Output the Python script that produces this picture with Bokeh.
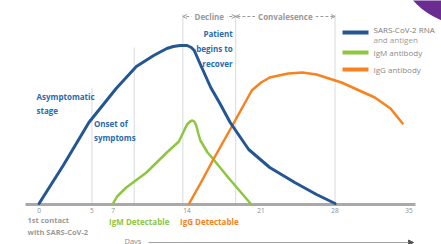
from bokeh.plotting import figure
from bokeh.models import Range1d, Arrow, OpenHead, NormalHead, Label
from bokeh.core.properties import value
from bokeh.embed import file_html
from bokeh.resources import INLINE

# ---------------- data (days since first contact, relative level) ----------------
tick_days = [0, 5, 7, 14, 21, 28, 35]
tick_labels = ["0", "5", "7", "14", "21", "28", "35"]

rna_days = [0, 2.28, 4.71, 7.29, 9.2, 10.84, 12.08, 12.7, 13.33, 14.0, 14.4, 14.68,
            15.26, 16.24, 17.11, 18.08, 19.83, 21.82, 24.19, 26.25, 28]
rna_level = [0, 38, 81, 115, 137, 148, 155, 157, 158, 158, 156, 153,
             139, 116, 100, 81, 54, 36, 21, 9, 0]

igm_days = [7, 7.38, 8.25, 10.16, 12.08, 13.23, 13.81, 14.0, 14.29, 14.49, 14.68,
            14.87, 15.06, 15.26, 15.94, 16.43, 17.89, 20]
igm_level = [0, 7, 16, 31, 51, 62, 75, 79, 82, 83, 82, 78, 70, 63, 51, 45, 26, 0]

igg_days = [14.2, 15.26, 16.43, 18.18, 20.12, 21.0, 21.82, 23.57, 24.91, 26.25,
            28.61, 31.76, 33.25, 34.39]
igg_level = [0, 20, 43, 76, 113, 121, 126, 130, 131, 129, 121, 106, 95, 80]

stage_days = [5, 9, 13.6, 18.6, 28]
stage_tops = [115, 156, 189, 189, 189]

phase_names = ["Decline", "Convalesence"]
phase_start = [13.6, 18.6]
phase_end = [18.6, 28]

series_names = ["SARS-CoV-2 RNA", "and antigen", "IgM antibody", "IgG antibody"]
series_colors = ["#245694", "#8dc63f", "#f7821e"]

# ---------------- layout helpers ----------------
W, H = 441, 244
S = 10.57          # px per day
D0 = 38.6          # page x of day 0
x0 = -D0 / S
XR = Range1d(x0, x0 + W / S)
YR = Range1d(203 - H, 203)   # 1 level unit = 1 px, baseline at page y 203


def gx(px):
    return (px - D0) / S


def gy(py):
    return 203 - py


FONT = value("Open Sans")
TEXT_BLUE = "#2a6aae"
GRAY = "#8c8c8c"

p = figure(width=W, height=H, x_range=XR, y_range=YR, min_border=0,
           toolbar_location=None, output_backend="svg",
           outline_line_color=None, background_fill_color="white",
           border_fill_color="white")
p.axis.visible = False
p.grid.visible = False

# stage marker lines
p.segment(x0=stage_days, y0=[0] * len(stage_days), x1=stage_days, y1=stage_tops,
          line_color="#d6dade", line_width=1)

# baseline
p.segment(x0=[gx(25)], y0=[-1], x1=[gx(415)], y1=[-1], line_color="#a9a9a9",
          line_width=3)

# curves
p.line(igm_days, igm_level, line_color=series_colors[1], line_width=2.5,
       line_join="round", line_cap="round")
p.line(igg_days, igg_level, line_color=series_colors[2], line_width=2.5,
       line_join="round", line_cap="round")
p.line(rna_days, rna_level, line_color=series_colors[0], line_width=3,
       line_join="round", line_cap="round")

# tick labels
p.text(x=tick_days, y=[-4] * len(tick_days), text=tick_labels,
       text_align="center", text_baseline="top", text_font=FONT,
       text_font_size="6.5px", text_color=GRAY)

# phase arrows at top
for name, s, e in zip(phase_names, phase_start, phase_end):
    mid = (s + e) / 2
    for end in (s, e):
        p.add_layout(Arrow(x_start=mid, y_start=187, x_end=end, y_end=187,
                           line_color="#9a9a9a", line_width=1, line_dash="3 2",
                           end=OpenHead(size=4, line_color="#9a9a9a", line_width=1)))
    p.add_layout(Label(x=mid, y=187, text=name, text_align="center",
                       text_baseline="middle", text_font="Open Sans",
                       text_font_size="8px", text_font_style="bold",
                       text_color="#999999", background_fill_color="white",
                       padding=3))

# blue annotations
p.text(x=[gx(36)], y=[gy(90)], text=["Asymptomatic\nstage"], text_align="left",
       text_baseline="top", text_font=FONT, text_font_size="8px",
       text_font_style="bold", text_color=TEXT_BLUE, text_line_height=1.3)
p.text(x=[stage_days[0]], y=[gy(117)], text=["Onset of\nsymptoms"], x_offset=2,
       text_align="left", text_baseline="top", text_font=FONT,
       text_font_size="8px", text_font_style="bold", text_color=TEXT_BLUE,
       text_line_height=1.3)
p.text(x=[stage_days[3]], y=[gy(27)], text=["Patient\nbegins to\nrecover"],
       x_offset=-3, text_align="right", text_baseline="top", text_font=FONT,
       text_font_size="8px", text_font_style="bold", text_color=TEXT_BLUE,
       text_line_height=1.4)

# bottom labels
p.text(x=[gx(27)] * 2, y=[gy(219), gy(231)], text=["1st contact", "with SARS-CoV-2"],
       text_align="left", text_baseline="middle", text_font=FONT,
       text_font_size="7.5px", text_font_style="bold", text_color="#9a9a9a")
p.text(x=[7], y=[gy(221)], text=["IgM Detectable"], x_offset=-4,
       text_align="left", text_baseline="middle", text_font=FONT,
       text_font_size="8px", text_font_style="bold", text_color=series_colors[1])
p.text(x=[14], y=[gy(221)], text=["IgG Detectable"], x_offset=-7,
       text_align="left", text_baseline="middle", text_font=FONT,
       text_font_size="8px", text_font_style="bold", text_color=series_colors[2])
p.text(x=[gx(124)], y=[gy(240)], text=["Days"], text_align="left",
       text_baseline="middle", text_font=FONT, text_font_size="7.5px",
       text_color=GRAY)
p.add_layout(Arrow(x_start=gx(148), y_start=gy(242), x_end=gx(413), y_end=gy(242),
                   line_color="#a0a0a0", line_width=1,
                   end=NormalHead(size=5, fill_color="#555555", line_color="#555555")))

# legend (drawn manually)
leg_y = [gy(32), gy(52), gy(69)]
p.segment(x0=[gx(342)] * 3, y0=leg_y, x1=[gx(368)] * 3, y1=leg_y,
          line_color=series_colors, line_width=4)
p.text(x=[gx(373)] * 4, y=[gy(29), gy(39), gy(52), gy(69)], text=series_names,
       text_align="left", text_baseline="middle",
       text_font=FONT, text_font_size="8px",
       text_color=["#7a7a7a", "#9a9a9a", "#8a8a8a", "#8a8a8a"])

# decorative purple corner
p.scatter(x=[gx(465)], y=[gy(-45)], size=138, marker="circle",
          fill_color="#6b2c91", line_color=None)

open("out.html", "w").write(file_html(p, INLINE))
